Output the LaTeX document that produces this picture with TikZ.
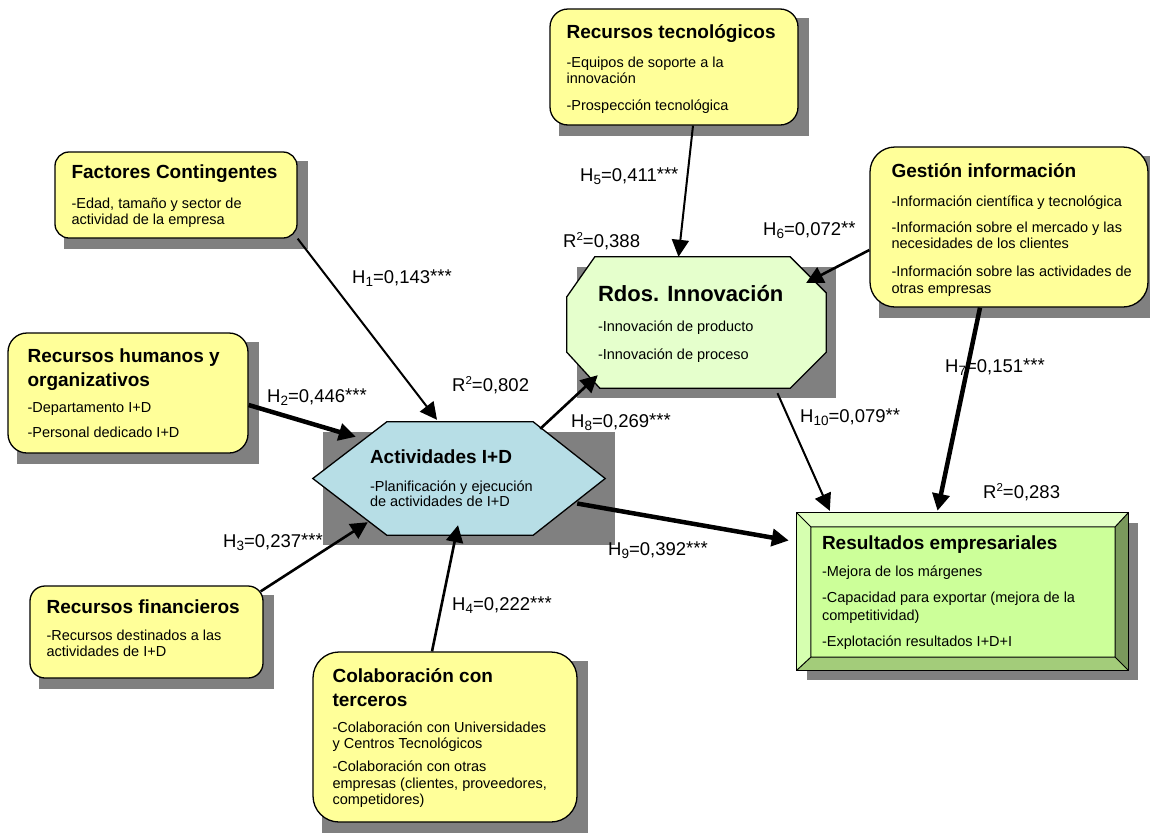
\documentclass[tikz,border=0pt]{standalone}
\usepackage{fontspec}
\setmainfont{Liberation Sans}
\usetikzlibrary{arrows.meta,calc}
\pgfdeclarelayer{background}
\pgfsetlayers{background,main}

\definecolor{boxyellow}{RGB}{255,255,153}
\definecolor{shadowgray}{RGB}{128,128,128}
\definecolor{hexblue}{RGB}{183,222,230}
\definecolor{octgreen}{RGB}{229,255,204}
\definecolor{resgreen}{RGB}{204,255,153}
\definecolor{bevtop}{RGB}{226,255,196}
\definecolor{bevleft}{RGB}{214,255,176}
\definecolor{bevright}{RGB}{122,153,92}
\definecolor{bevbottom}{RGB}{163,204,122}

% title line and body paragraph of a box
\newcommand{\bxtitle}[1]{{\fontsize{19}{22}\selectfont\bfseries #1}}
\newcommand{\bxbody}[1]{\parbox[t]{420pt}{\setlength{\lineskiplimit}{-100pt}\fontsize{14.5}{16.5}\selectfont #1}}
% index, significance marks and exponent of the coefficients
\newcommand{\idx}[1]{\raisebox{-3.5pt}{\fontsize{13.5}{14}\selectfont #1}}
\newcommand{\sig}[1]{\raisebox{1pt}{#1}}
\newcommand{\expo}[1]{\raisebox{7pt}{\fontsize{11.5}{12}\selectfont #1}}

\begin{document}
\begin{tikzpicture}[x=1pt,y=-1pt,
  ybox/.style={draw=black, line width=1.3pt, fill=boxyellow, rounded corners=#1, inner sep=0pt},
  shapeframe/.style={inner sep=0pt},
  txt/.style={anchor=base west, inner sep=0pt},
  lbl/.style={anchor=base west, inner sep=0pt, font=\fontsize{18.5}{22}\selectfont},
  conn/.style={draw=black, line width=#1, -{Triangle[length=17pt,width=17pt]}},
  outline/.style={draw=black, line width=1.3pt}]

\useasboundingbox (0,0) rectangle (1150,836);

% rounded boxes of the explanatory factors
\node[ybox=18pt, minimum width=248pt, minimum height=116pt] (tec) at (674,67) {};
\node[ybox=14pt, minimum width=242pt, minimum height=86pt] (fac) at (176,195) {};
\node[ybox=19pt, minimum width=240pt, minimum height=120pt] (hum) at (128,393) {};
\node[ybox=15pt, minimum width=233pt, minimum height=92pt] (fin) at (146.5,632) {};
\node[ybox=26pt, minimum width=264pt, minimum height=170pt] (col) at (445,737) {};
\node[ybox=25pt, minimum width=278pt, minimum height=160pt] (ges) at (1009,227) {};

% frames of the hexagon, octagon and bevelled box
\node[shapeframe, minimum width=292pt, minimum height=113pt] (act) at (459,478.5) {};
\node[shapeframe, minimum width=259pt, minimum height=131pt] (inn) at (696.5,322.5) {};
\node[shapeframe, minimum width=331pt, minimum height=157pt] (res) at (962.5,591.5) {};

% page background and drop shadows
\begin{pgfonlayer}{background}
\fill[white] (0,0) rectangle (1150,836);
\foreach \n in {tec,fac,hum,fin,col,ges,act,inn,res}
  \fill[shadowgray] ([shift={(10,10)}]\n.north west) rectangle ([shift={(10,10)}]\n.south east);
\end{pgfonlayer}

% Actividades I+D hexagon
\filldraw[outline, fill=hexblue]
  ([shift={(74,0)}]act.north west) -- ([shift={(-72,0)}]act.north east) -- (act.east)
  -- ([shift={(-72,0)}]act.south east) -- ([shift={(74,0)}]act.south west) -- (act.west) -- cycle;

% Rdos. Innovacion octagon
\filldraw[outline, fill=octgreen]
  ([shift={(28,0)}]inn.north west) -- ([shift={(-36,0)}]inn.north east)
  -- ([shift={(0,36)}]inn.north east) -- ([shift={(0,-36)}]inn.south east)
  -- ([shift={(-36,0)}]inn.south east) -- ([shift={(33,0)}]inn.south west)
  -- ([shift={(0,-36)}]inn.south west) -- ([shift={(0,40)}]inn.north west) -- cycle;

% Resultados empresariales bevelled box
\coordinate (ri1) at ([shift={(14,14)}]res.north west);
\coordinate (ri2) at ([shift={(-13,14)}]res.north east);
\coordinate (ri3) at ([shift={(-13,-13)}]res.south east);
\coordinate (ri4) at ([shift={(14,-13)}]res.south west);
\fill[bevtop] (res.north west) -- (res.north east) -- (ri2) -- (ri1) -- cycle;
\fill[bevright] (res.north east) -- (res.south east) -- (ri3) -- (ri2) -- cycle;
\fill[bevbottom] (res.south east) -- (res.south west) -- (ri4) -- (ri3) -- cycle;
\fill[bevleft] (res.south west) -- (res.north west) -- (ri1) -- (ri4) -- cycle;
\fill[resgreen] (ri1) -- (ri2) -- (ri3) -- (ri4) -- cycle;
\draw[black, line width=1pt] (ri1) -- (ri2) -- (ri3) -- (ri4) -- cycle
  (res.north west) -- (ri1) (res.north east) -- (ri2)
  (res.south east) -- (ri3) (res.south west) -- (ri4);
\draw[outline] (res.north west) rectangle (res.south east);

% box texts
\node[txt] (tec-t) at ([shift={(17,30)}]tec.north west) {\bxbody{%
  \bxtitle{Recursos tecnológicos}\\[12.5pt]
  -Equipos de soporte a la\\ innovación\\[10.5pt]
  -Prospección tecnológica}};
\node[txt] (fac-t) at ([shift={(17,27)}]fac.north west) {\bxbody{%
  \bxtitle{Factores Contingentes}\\[13.5pt]
  -Edad, tamaño y sector de\\ actividad de la empresa}};
\node[txt] (hum-t) at ([shift={(20,30)}]hum.north west) {\bxbody{%
  \bxtitle{Recursos humanos y}\\[7.5pt]
  \bxtitle{organizativos}\\[9.5pt]
  -Departamento I+D\\[8.5pt]
  -Personal dedicado I+D}};
\node[txt] (fin-t) at ([shift={(17,28)}]fin.north west) {\bxbody{%
  \bxtitle{Recursos financieros}\\[10.5pt]
  -Recursos destinados a las\\ actividades de I+D}};
\node[txt] (col-t) at ([shift={(20,31)}]col.north west) {\bxbody{%
  \bxtitle{Colaboración con}\\[7.5pt]
  \bxtitle{terceros}\\[9.5pt]
  -Colaboración con Universidades\\ y Centros Tecnológicos\\[6.5pt]
  -Colaboración con otras\\ empresas (clientes, proveedores,\\ competidores)}};
\node[txt] (ges-t) at ([shift={(22,31)}]ges.north west) {\bxbody{%
  \bxtitle{Gestión información}\\[12.5pt]
  -Información científica y tecnológica\\[9.5pt]
  -Información sobre el mercado y las\\ necesidades de los clientes\\[11.5pt]
  -Información sobre las actividades de\\ otras empresas}};
\node[txt] (act-t) at ([shift={(57,42)}]act.north west) {\bxbody{%
  \bxtitle{Actividades I+D}\\[11.5pt]
  -Planificación y ejecución\\[-1.5pt] de actividades de I+D}};
\node[txt] (inn-t) at ([shift={(31,45)}]inn.north west) {\bxbody{%
  {\fontsize{22}{26}\selectfont\bfseries Rdos. Innovación}\\[13.5pt]
  -Innovación de producto\\[11.5pt]
  -Innovación de proceso}};
\node[txt] (res-t) at ([shift={(25,37)}]res.north west) {\bxbody{%
  \bxtitle{Resultados empresariales}\\[10.5pt]
  -Mejora de los márgenes\\[9.5pt]
  -Capacidad para exportar (mejora de la\\[1.5pt] competitividad)\\[9.5pt]
  -Explotación resultados I+D+I}};

% hypothesised paths
\draw[conn=2pt] (fac.south east) -- ([shift={(-22,-2)}]act.north);
\draw[conn=4.5pt] ([shift={(0,12)}]hum.east) -- ([shift={(43,15)}]act.north west);
\draw[conn=2.6pt] ([shift={(-3,6)}]fin.north east) -- ([shift={(55,-13)}]act.south west);
\draw[conn=2.6pt] ([shift={(-13,0)}]col.north) -- ([shift={(-1,-10)}]act.south);
\draw[conn=2pt] ([shift={(19,0)}]tec.south) -- ([shift={(-18,0)}]inn.north);
\draw[conn=2.6pt] ([shift={(0,23)}]ges.west) -- ([shift={(-20,26)}]inn.north east);
\draw[conn=4.5pt] ([shift={(-29,0)}]ges.south) -- ([shift={(-25,-2)}]res.north);
\draw[conn=2.6pt] ([shift={(-65,7)}]act.north east) -- ([shift={(31,-13)}]inn.south west);
\draw[conn=4.5pt] ([shift={(-28,25)}]act.east) -- ([shift={(-8,-51)}]res.west);
\draw[conn=2pt] ([shift={(81,5)}]inn.south) -- ([shift={(33,-2)}]res.north west);

% path coefficients and explained variance
\node[lbl] (h1) at (352,283) {H\idx{1}=0,143\sig{***}};
\node[lbl] (h2) at (267,402) {H\idx{2}=0,446\sig{***}};
\node[lbl] (h3) at (223,547) {H\idx{3}=0,237\sig{***}};
\node[lbl] (h4) at (452,610) {H\idx{4}=0,222\sig{***}};
\node[lbl] (h5) at (580,181) {H\idx{5}=0,411\sig{***}};
\node[lbl] (h6) at (763,235) {H\idx{6}=0,072\sig{**}};
\node[lbl] (h7) at (945,372) {H\idx{7}=0,151\sig{***}};
\node[lbl] (h8) at (571,427) {H\idx{8}=0,269\sig{***}};
\node[lbl] (h9) at (608,555) {H\idx{9}=0,392\sig{***}};
\node[lbl] (h10) at (800,422) {H\idx{10}=0,079\sig{**}};
\node[lbl] (r1) at (452,391) {R\expo{2}=0,802};
\node[lbl] (r2) at (563,247) {R\expo{2}=0,388};
\node[lbl] (r3) at (983,498) {R\expo{2}=0,283};

\end{tikzpicture}
\end{document}
